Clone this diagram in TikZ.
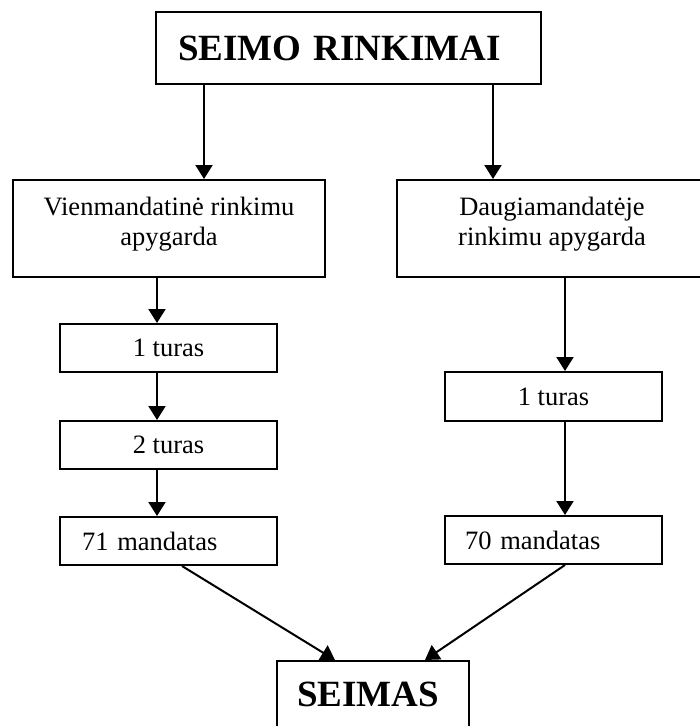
\documentclass[tikz,border=0pt]{standalone}
\usepackage{fontspec}
\setmainfont{Liberation Serif}
\usetikzlibrary{arrows.meta}

\tikzset{
  box/.style={draw, line width=2pt, rectangle, inner sep=0pt, minimum height=48pt},
  txt/.style={font=\fontsize{26.5}{30}\selectfont},
  bigtxt/.style={font=\fontsize{37}{40}\selectfont\bfseries},
  arr/.style={line width=2pt, -{Triangle[width=17pt,length=14pt]}},
}

\begin{document}
\begin{tikzpicture}[x=1pt, y=-1pt]
  \useasboundingbox (0,0) rectangle (700,726);
  \clip (0,0) rectangle (700,726);

  % top of the chart
  \node[box, bigtxt, minimum width=385pt, minimum height=72pt,
        text width=341pt, align=left] (top) at (348.5,48) {SEIMO RINKIMAI};

  % the two kinds of constituencies
  \node[box, minimum width=312pt, minimum height=97pt] (vien) at (169,228.5) {};
  \node[txt, align=center] (vienlbl) at ([yshift=4.5pt]vien.center)
        {Vienmandatinė rinkimu\\apygarda};
  \node[box, minimum width=310pt, minimum height=97pt] (daug) at (552,228.5) {};
  \node[txt, align=center] (dauglbl) at ([yshift=4.5pt]daug.center)
        {Daugiamandatėje\\rinkimu apygarda};

  % left branch
  \node[box, txt, minimum width=217pt] (t1L) at (168.5,348) {1 turas};
  \node[box, txt, minimum width=217pt] (t2L) at (168.5,445) {2 turas};
  \node[box, txt, minimum width=217pt, text width=173pt, align=left]
        (m71) at (168.5,541) {71 mandatas};

  % right branch
  \node[box, txt, minimum width=217pt, minimum height=49pt] (t1R) at (553.5,396.5) {1 turas};
  \node[box, txt, minimum width=217pt, text width=177pt, align=left]
        (m70) at (553.5,540) {70 mandatas};

  % parliament
  \node[box, minimum width=192pt, minimum height=99pt] (seimas) at (373,710.5) {};
  \node[bigtxt, anchor=base] (seimaslbl) at (368,706) {SEIMAS};

  % vertical positions of the connectors
  \coordinate (xa) at (204,0);
  \coordinate (xb) at (493,0);
  \coordinate (xl) at (157,0);
  \coordinate (xr) at (565,0);
  \coordinate (xs1) at (182,0);
  \coordinate (xs2) at (335,0);
  \coordinate (xs3) at (425,0);

  \draw[arr] (top.south -| xa) -- (vien.north -| xa);
  \draw[arr] (top.south -| xb) -- (daug.north -| xb);

  \draw[arr] (vien.south -| xl) -- (t1L.north -| xl);
  \draw[arr] (t1L.south -| xl) -- (t2L.north -| xl);
  \draw[arr] (t2L.south -| xl) -- (m71.north -| xl);

  \draw[arr] (daug.south -| xr) -- (t1R.north -| xr);
  \draw[arr] (t1R.south -| xr) -- (m70.north -| xr);

  \draw[arr] (m71.south -| xs1) -- (seimas.north -| xs2);
  \draw[arr] (m70.south -| xr) -- (seimas.north -| xs3);
\end{tikzpicture}
\end{document}
